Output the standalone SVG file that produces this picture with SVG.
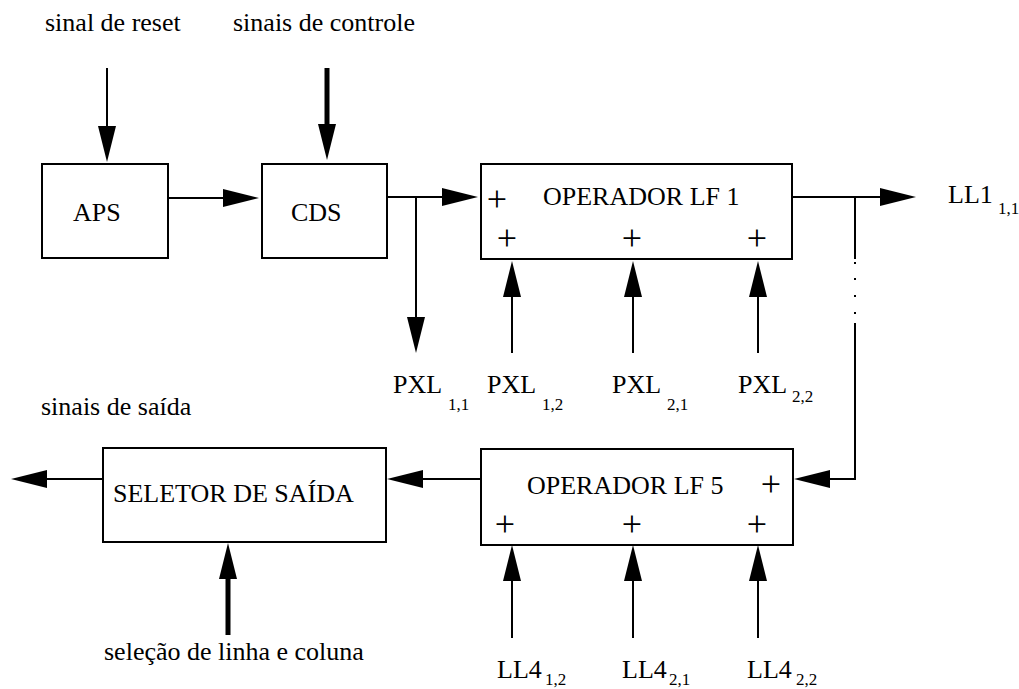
<svg xmlns="http://www.w3.org/2000/svg" width="1019" height="689" viewBox="0 0 1019 689" font-family="Liberation Serif, Times New Roman, serif">
  <style>
    .box { fill: #fff; stroke: #000; stroke-width: 2; }
    .lbl { font-family: 'Liberation Serif', 'Times New Roman', serif; font-size: 26px; fill: #000; }
    .sub { font-family: 'Liberation Serif', 'Times New Roman', serif; font-size: 17px; fill: #000; }
    .plus { font-family: 'Liberation Serif', 'Times New Roman', serif; font-size: 36px; fill: #000; text-anchor: middle; }
    .wire { fill: none; stroke: #000; stroke-width: 2; }
    .bus { fill: none; stroke: #000; stroke-width: 5; }
    .dot { fill: #000; }
  </style>
  <defs>
    <!-- arrowhead starts at the end of the line and extends 36px beyond it -->
    <marker id="head" markerUnits="userSpaceOnUse" markerWidth="36" markerHeight="18" refX="0" refY="9" orient="auto" overflow="visible">
      <path d="M0,0 L36,9 L0,18 Z" fill="#000"/>
    </marker>
  </defs>
  <rect width="1019" height="689" fill="#fff"/>

  <!-- free-standing labels -->
  <g id="labels">
    <text class="lbl" x="45" y="31">sinal de reset</text>
    <text class="lbl" x="233" y="31">sinais de controle</text>
    <text class="lbl" x="41" y="415">sinais de saída</text>
    <text class="lbl" x="104" y="660">seleção de linha e coluna</text>
    <text class="lbl" x="948" y="203">LL1</text><text class="sub" x="998" y="214">1,1</text>
    <text class="lbl" x="393" y="393">PXL</text><text class="sub" x="448" y="410">1,1</text>
    <text class="lbl" x="487" y="393">PXL</text><text class="sub" x="542" y="410">1,2</text>
    <text class="lbl" x="612" y="393">PXL</text><text class="sub" x="667" y="410">2,1</text>
    <text class="lbl" x="738" y="393">PXL</text><text class="sub" x="792" y="402">2,2</text>
    <text class="lbl" x="497" y="678">LL4</text><text class="sub" x="545" y="685">1,2</text>
    <text class="lbl" x="622" y="678">LL4</text><text class="sub" x="669" y="685">2,1</text>
    <text class="lbl" x="747" y="678">LL4</text><text class="sub" x="796" y="685">2,2</text>
  </g>

  <!-- connectors -->
  <g id="connectors">
    <line class="wire" x1="107" y1="68" x2="107" y2="126" marker-end="url(#head)"/>
    <line class="bus" x1="327" y1="68" x2="327" y2="124" marker-end="url(#head)"/>
    <line class="wire" x1="168" y1="198" x2="223" y2="198" marker-end="url(#head)"/>
    <line class="wire" x1="387" y1="197" x2="442" y2="197" marker-end="url(#head)"/>
    <line class="wire" x1="416" y1="197" x2="416" y2="317" marker-end="url(#head)"/>
    <line class="wire" x1="512" y1="353" x2="512" y2="297" marker-end="url(#head)"/>
    <line class="wire" x1="633" y1="353" x2="633" y2="297" marker-end="url(#head)"/>
    <line class="wire" x1="758" y1="353" x2="758" y2="297" marker-end="url(#head)"/>
    <line class="wire" x1="792" y1="197" x2="880" y2="197" marker-end="url(#head)"/>
    <!-- dotted continuation down to the last operator -->
    <line class="wire" x1="855" y1="197" x2="855" y2="259"/>
    <rect class="dot" x="854" y="262" width="2" height="2"/>
    <rect class="dot" x="854" y="278" width="2" height="2"/>
    <rect class="dot" x="854" y="295" width="2" height="2"/>
    <rect class="dot" x="854" y="312" width="2" height="2"/>
    <polyline class="wire" points="855,323 855,479 830,479" marker-end="url(#head)"/>
    <line class="wire" x1="481" y1="479" x2="423" y2="479" marker-end="url(#head)"/>
    <line class="wire" x1="103" y1="479" x2="47" y2="479" marker-end="url(#head)"/>
    <line class="bus" x1="228" y1="635" x2="228" y2="579" marker-end="url(#head)"/>
    <line class="wire" x1="512" y1="638" x2="512" y2="581" marker-end="url(#head)"/>
    <line class="wire" x1="633" y1="638" x2="633" y2="581" marker-end="url(#head)"/>
    <line class="wire" x1="758" y1="638" x2="758" y2="581" marker-end="url(#head)"/>
  </g>

  <g id="aps">
    <rect class="box" x="42" y="164" width="126" height="94"/>
    <text class="lbl" x="73" y="221">APS</text>
  </g>

  <g id="cds">
    <rect class="box" x="262" y="164" width="125" height="94"/>
    <text class="lbl" x="291" y="221">CDS</text>
  </g>

  <g id="operador-lf1">
    <rect class="box" x="481" y="164" width="311" height="95"/>
    <text class="lbl" x="543" y="205">OPERADOR LF 1</text>
    <text class="plus" x="497" y="211">+</text>
    <text class="plus" x="507" y="250">+</text>
    <text class="plus" x="632" y="250">+</text>
    <text class="plus" x="757" y="250">+</text>
  </g>

  <g id="operador-lf5">
    <rect class="box" x="481" y="449" width="312" height="96"/>
    <text class="lbl" x="527" y="494">OPERADOR LF 5</text>
    <text class="plus" x="771" y="496">+</text>
    <text class="plus" x="505" y="536">+</text>
    <text class="plus" x="632" y="536">+</text>
    <text class="plus" x="757" y="536">+</text>
  </g>

  <g id="seletor">
    <rect class="box" x="103" y="448" width="283" height="94"/>
    <text class="lbl" x="113" y="502">SELETOR DE SAÍDA</text>
  </g>
</svg>
